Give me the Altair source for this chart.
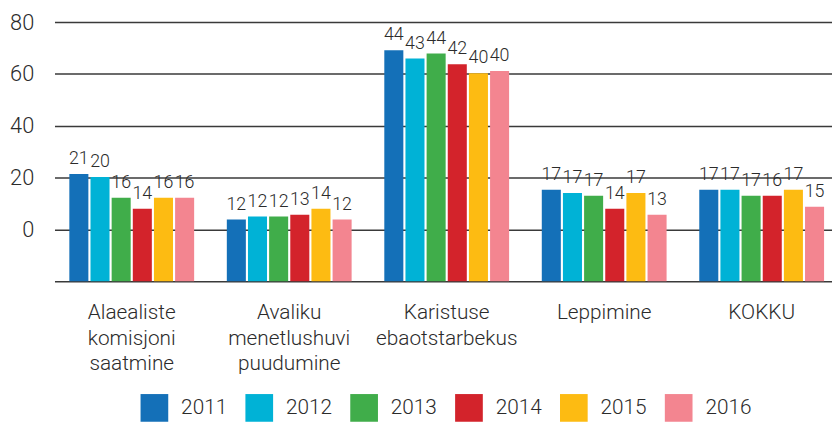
import altair as alt
import pandas as pd

categories = [
    "Alaealiste|komisjoni|saatmine",
    "Avaliku|menetlushuvi|puudumine",
    "Karistuse|ebaotstarbekus",
    "Leppimine",
    "KOKKU",
]
years = ["2011", "2012", "2013", "2014", "2015", "2016"]
colors = ["#1470b8", "#00b2d6", "#40ad4a", "#d3232b", "#fdbb12", "#f38590"]

# bar heights as drawn in the picture (per year, per category)
bar_2011 = [21.4, 3.8, 69.1, 15.3, 15.3]
bar_2012 = [20.2, 5.0, 66.0, 14.1, 15.3]
bar_2013 = [12.2, 5.0, 67.9, 13.0, 13.0]
bar_2014 = [8.0, 5.7, 63.7, 8.0, 13.0]
bar_2015 = [12.2, 8.0, 60.3, 14.1, 15.3]
bar_2016 = [12.2, 3.8, 61.1, 5.7, 8.8]

# value labels printed above the bars
lab_2011 = [21, 12, 44, 17, 17]
lab_2012 = [20, 12, 43, 17, 17]
lab_2013 = [16, 12, 44, 17, 17]
lab_2014 = [14, 13, 42, 14, 16]
lab_2015 = [16, 14, 40, 17, 17]
lab_2016 = [16, 12, 40, 13, 15]

bars = [bar_2011, bar_2012, bar_2013, bar_2014, bar_2015, bar_2016]
labs = [lab_2011, lab_2012, lab_2013, lab_2014, lab_2015, lab_2016]

rows = []
for yi, yr in enumerate(years):
    for ci, cat in enumerate(categories):
        rows.append({"cat": cat, "year": yr, "value": bars[yi][ci], "label": str(labs[yi][ci])})
df = pd.DataFrame(rows)

FONT = "Roboto"
WEIGHT = 300
TXT = "#2b2b2b"
LINE = "#3a3a3a"

x = alt.X(
    "cat:N",
    sort=categories,
    scale=alt.Scale(paddingInner=0.2075, paddingOuter=0.0723, align=0.652),
    axis=alt.Axis(
        title=None,
        labelAngle=0,
        labelExpr="split(datum.label, '|')",
        labelLineHeight=25.5,
        labelPadding=21,
        labelFontSize=21,
        ticks=False,
        domain=True,
        domainColor=LINE,
        domainWidth=1.5,
        grid=False,
    ),
)
xo = alt.XOffset("year:N", sort=years, scale=alt.Scale(paddingInner=0.1))
y = alt.Y(
    "value:Q",
    scale=alt.Scale(domain=[-20, 80], nice=False, zero=False),
    axis=alt.Axis(
        title=None,
        values=[0, 20, 40, 60, 80],
        grid=True,
        gridColor=LINE,
        gridWidth=1.5,
        domain=False,
        ticks=False,
        labelPadding=21,
        labelFontSize=22,
    ),
)
color = alt.Color(
    "year:N",
    sort=years,
    scale=alt.Scale(domain=years, range=colors),
    legend=alt.Legend(
        title=None,
        orient="none",
        legendX=87,
        legendY=376,
        direction="horizontal",
        symbolType="square",
        symbolSize=784,
        symbolStrokeWidth=0,
        symbolOpacity=1,
        labelFontSize=21,
        labelOffset=13,
        columnPadding=18,
    ),
)

bar_layer = alt.Chart(df).mark_bar(opacity=1).encode(
    x=x, xOffset=xo, y=y, y2=alt.datum(-20), color=color
)
text_layer = alt.Chart(df).mark_text(
    dy=-10, baseline="alphabetic", fontSize=18, color=TXT, font=FONT, fontWeight=WEIGHT
).encode(x=x, xOffset=xo, y="value:Q", text="label:N")

chart = (
    alt.layer(bar_layer, text_layer)
    .properties(width=786, height=262, padding={"left": 1, "top": 1, "right": 0, "bottom": 0})
    .configure_view(stroke=None)
    .configure_axis(labelFont=FONT, labelColor=TXT, labelFontWeight=WEIGHT)
    .configure_legend(labelFont=FONT, labelColor=TXT, labelFontWeight=WEIGHT)
)

chart.save("out.html", embed_options={"renderer": "svg", "actions": False})
